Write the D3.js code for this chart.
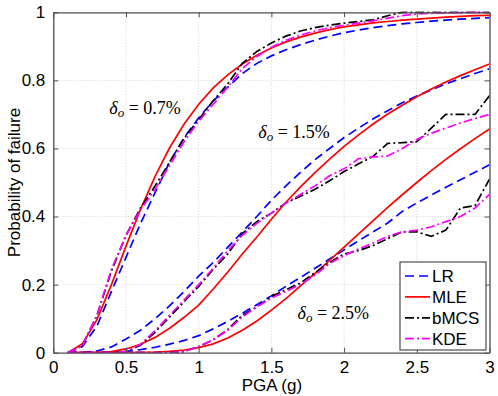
<!DOCTYPE html>
<html>
<head>
<meta charset="utf-8">
<script src="https://cdn.jsdelivr.net/npm/d3@7"></script>
<style>
  body { margin: 0; background: #fff; }
  svg { display: block; }
</style>
</head>
<body>
<div id="chart"></div>
<script>
const width = 498;
const height = 396;

// PGA grid (g)
var pga = [0.1, 0.2, 0.3, 0.4, 0.5, 0.6, 0.7, 0.8, 0.9, 1.0, 1.1, 1.2, 1.3, 1.4, 1.5,
  1.6, 1.7, 1.8, 1.9, 2.0, 2.1, 2.2, 2.3, 2.4, 2.5, 2.6, 2.7, 2.8, 2.9, 3.0];

// drift limit 0.7%
var lr07 = [0, 0.018, 0.078, 0.18, 0.28, 0.38, 0.47, 0.56, 0.632, 0.69, 0.74, 0.78, 0.82, 0.85, 0.872,
  0.89, 0.905, 0.918, 0.93, 0.94, 0.948, 0.955, 0.961, 0.966, 0.97, 0.974, 0.977, 0.98, 0.982, 0.984];
var mle07 = [0, 0.026, 0.097, 0.2, 0.313, 0.421, 0.518, 0.602, 0.672, 0.73, 0.778, 0.816, 0.848, 0.874, 0.895,
  0.913, 0.927, 0.939, 0.949, 0.957, 0.963, 0.969, 0.973, 0.977, 0.98, 0.983, 0.986, 0.988, 0.99, 0.991];
var bmcs07 = [0, 0.02, 0.11, 0.24, 0.345, 0.425, 0.49, 0.56, 0.63, 0.685, 0.74, 0.79, 0.85, 0.885, 0.91,
  0.93, 0.945, 0.955, 0.962, 0.968, 0.973, 0.978, 0.99, 1, 1, 1, 1, 1, 1, 1];
var kde07 = [0, 0.02, 0.11, 0.245, 0.345, 0.42, 0.48, 0.55, 0.62, 0.68, 0.73, 0.78, 0.835, 0.87, 0.897,
  0.918, 0.933, 0.945, 0.955, 0.962, 0.968, 0.975, 0.983, 0.99, 0.995, 0.997, 0.998, 0.999, 1, 1];

// drift limit 1.5%
var lr15 = [0, 0.001, 0.005, 0.017, 0.04, 0.066, 0.1, 0.138, 0.18, 0.225, 0.265, 0.31, 0.355, 0.4, 0.448,
  0.49, 0.53, 0.567, 0.6, 0.632, 0.66, 0.687, 0.711, 0.734, 0.754, 0.772, 0.79, 0.805, 0.82, 0.834];
var mle15 = [0, 0, 0, 0.003, 0.011, 0.025, 0.045, 0.072, 0.104, 0.14, 0.187, 0.237, 0.29, 0.34, 0.392,
  0.442, 0.487, 0.529, 0.569, 0.606, 0.64, 0.672, 0.701, 0.727, 0.752, 0.775, 0.795, 0.814, 0.831, 0.848];
var bmcs15 = [0, 0, 0, 0, 0.003, 0.022, 0.06, 0.105, 0.15, 0.195, 0.245, 0.29, 0.35, 0.385, 0.41,
  0.44, 0.46, 0.48, 0.505, 0.532, 0.555, 0.577, 0.615, 0.617, 0.62, 0.66, 0.7, 0.7, 0.7, 0.755];
var kde15 = [0, 0, 0, 0, 0.003, 0.025, 0.065, 0.11, 0.155, 0.2, 0.248, 0.3, 0.345, 0.38, 0.41,
  0.44, 0.465, 0.49, 0.52, 0.54, 0.57, 0.575, 0.578, 0.6, 0.626, 0.645, 0.66, 0.675, 0.688, 0.7];

// drift limit 2.5%
var lr25 = [0, 0, 0, 0.001, 0.004, 0.009, 0.016, 0.025, 0.036, 0.05, 0.07, 0.092, 0.116, 0.141, 0.167,
  0.195, 0.221, 0.248, 0.275, 0.302, 0.329, 0.355, 0.381, 0.415, 0.44, 0.463, 0.486, 0.508, 0.53, 0.552];
var mle25 = [0, 0, 0, 0, 0, 0.001, 0.002, 0.004, 0.008, 0.015, 0.026, 0.043, 0.066, 0.093, 0.125,
  0.159, 0.196, 0.233, 0.271, 0.31, 0.349, 0.388, 0.427, 0.464, 0.5, 0.535, 0.568, 0.599, 0.629, 0.657];
var bmcs25 = [0, 0, 0, 0, 0, 0, 0, 0, 0.003, 0.018, 0.038, 0.068, 0.11, 0.135, 0.165,
  0.185, 0.205, 0.235, 0.265, 0.29, 0.3, 0.315, 0.335, 0.355, 0.355, 0.342, 0.36, 0.425, 0.432, 0.51];
var kde25 = [0, 0, 0, 0, 0, 0, 0, 0, 0.003, 0.018, 0.038, 0.066, 0.105, 0.135, 0.16,
  0.18, 0.2, 0.228, 0.262, 0.285, 0.305, 0.322, 0.342, 0.355, 0.36, 0.37, 0.385, 0.4, 0.425, 0.465];

var xTicks = [0, 0.5, 1, 1.5, 2, 2.5, 3];
var yTicks = [0, 0.2, 0.4, 0.6, 0.8, 1];

var methods = [
  { name: "LR", color: "#0000ff", dash: "9,5", series: [lr07, lr15, lr25] },
  { name: "MLE", color: "#ff0000", dash: null, series: [mle07, mle15, mle25] },
  { name: "bMCS", color: "#000000", dash: "9,3,2,3", series: [bmcs07, bmcs15, bmcs25] },
  { name: "KDE", color: "#ff00ff", dash: "9,3,2,3", series: [kde07, kde15, kde25] }
];

var labels = [
  { text: "0.7%", px: 0.385, py: 0.7 },
  { text: "1.5%", px: 1.41, py: 0.63 },
  { text: "2.5%", px: 1.68, py: 0.1 }
];

const margin = { left: 53.3, right: 8.5, top: 12.3, bottom: 43.3 };

const x = d3.scaleLinear().domain([0, 3]).range([margin.left, width - margin.right]);
const y = d3.scaleLinear().domain([0, 1]).range([height - margin.bottom, margin.top]);

const svg = d3.select("#chart").append("svg")
  .attr("width", width)
  .attr("height", height)
  .style("font-family", "'Liberation Sans', Arial, sans-serif");

svg.append("defs").append("clipPath").attr("id", "clip")
  .append("rect")
  .attr("x", x(0)).attr("y", y(1) - 1)
  .attr("width", x(3) - x(0)).attr("height", y(0) - y(1) + 1);

// grid
var grid = svg.append("g").attr("stroke", "#c8c8c8").attr("stroke-dasharray", "1,2").attr("stroke-width", 0.8);
grid.selectAll("line.gx").data(xTicks.slice(1, -1)).enter().append("line")
  .attr("x1", d => x(d)).attr("x2", d => x(d))
  .attr("y1", y(0)).attr("y2", y(1));
grid.selectAll("line.gy").data(yTicks.slice(1, -1)).enter().append("line")
  .attr("y1", d => y(d)).attr("y2", d => y(d))
  .attr("x1", x(0)).attr("x2", x(3));

// curves
var line = d3.line()
  .x((d, i) => x(pga[i]))
  .y(d => y(d));

var curves = svg.append("g").attr("clip-path", "url(#clip)").attr("fill", "none");
methods.forEach(function(m) {
  curves.selectAll(null)
    .data(m.series)
    .enter()
    .append("path")
    .attr("d", line)
    .attr("stroke", m.color)
    .attr("stroke-width", 1.7)
    .attr("stroke-dasharray", m.dash);
});

// axes, MATLAB style box with inward ticks
var axisColor = "#4d4d4d";
var xAxis = d3.axisBottom(x).tickValues(xTicks).tickSizeInner(-5).tickSizeOuter(0).tickPadding(8)
  .tickFormat(d3.format("~g"));
var yAxis = d3.axisLeft(y).tickValues(yTicks).tickSizeInner(-5).tickSizeOuter(0).tickPadding(8)
  .tickFormat(d3.format("~g"));

svg.append("g").attr("transform", "translate(0," + y(0) + ")").call(xAxis);
svg.append("g").attr("transform", "translate(" + x(0) + ",0)").call(yAxis);
svg.append("g").attr("transform", "translate(0," + y(1) + ")")
  .call(d3.axisTop(x).tickValues(xTicks).tickSizeInner(-5).tickSizeOuter(0).tickFormat(""));
svg.append("g").attr("transform", "translate(" + x(3) + ",0)")
  .call(d3.axisRight(y).tickValues(yTicks).tickSizeInner(-5).tickSizeOuter(0).tickFormat(""));

svg.selectAll(".domain").attr("stroke", axisColor).attr("stroke-width", 1.3);
svg.selectAll(".tick line").attr("stroke", axisColor);
svg.selectAll(".tick text").attr("fill", "#000").style("font-size", "17px")
  .style("font-family", "'Liberation Sans', Arial, sans-serif");

svg.append("text")
  .attr("x", (x(0) + x(3)) / 2 + 0.5)
  .attr("y", 390.5)
  .attr("text-anchor", "middle")
  .style("font-size", "17px")
  .text("PGA (g)");

svg.append("text")
  .attr("transform", "translate(19.5," + (y(0.5)) + ") rotate(-90)")
  .attr("text-anchor", "middle")
  .style("font-size", "17px")
  .text("Probability of failure");

// drift limit labels
var lab = svg.append("g")
  .style("font-family", "'Liberation Serif', 'DejaVu Serif', serif")
  .style("font-size", "18px");
labels.forEach(function(l) {
  var t = lab.append("text").attr("x", x(l.px)).attr("y", y(l.py));
  t.append("tspan").style("font-style", "italic").text("\u03b4");
  t.append("tspan").style("font-style", "italic").style("font-size", "13px").attr("dy", 3).text("o");
  t.append("tspan").attr("dy", -3).text(" = " + l.text);
});

// legend
var leg = svg.append("g").attr("transform", "translate(400,262)");
leg.append("rect")
  .attr("width", 86).attr("height", 88)
  .attr("fill", "#fff").attr("stroke", axisColor).attr("stroke-width", 1.2);
var items = leg.selectAll("g.item").data(methods).enter().append("g")
  .attr("transform", (d, i) => "translate(0," + (14 + i * 20.9) + ")");
items.append("line")
  .attr("x1", 5).attr("x2", 30)
  .attr("stroke", d => d.color)
  .attr("stroke-width", 1.7)
  .attr("stroke-dasharray", d => d.dash);
items.append("text")
  .attr("x", 32).attr("dy", "0.36em")
  .style("font-size", "17px")
  .text(d => d.name);
</script>
</body>
</html>
